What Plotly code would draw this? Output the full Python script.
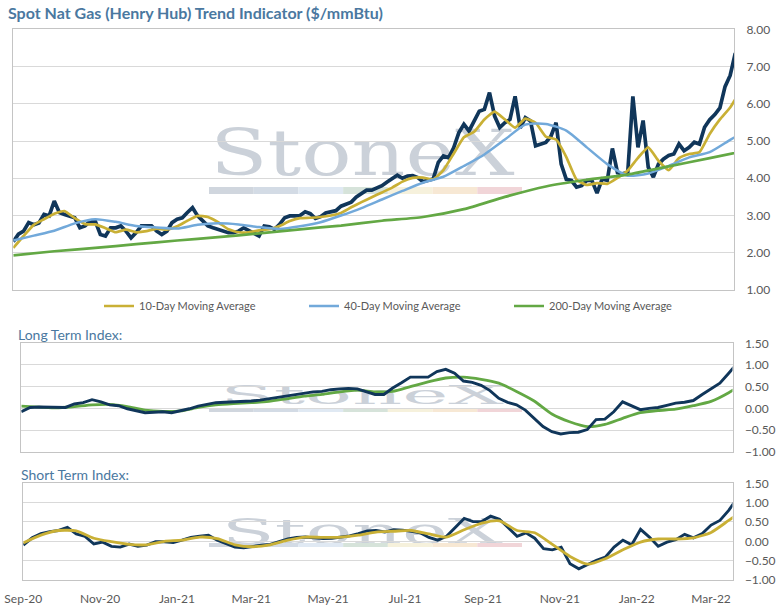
import pandas as pd
import plotly.graph_objects as go

W, H = 778, 607

# ---------------- data ----------------
START = "2020-09-01"
END = "2022-03-18"

spot_dates = pd.date_range(START, periods=142, freq="4D")
spot = [2.3, 2.5, 2.58, 2.81, 2.75, 2.8, 3.03, 2.99, 3.39, 3.08,
        3.03, 2.99, 2.94, 2.67, 2.72, 2.85, 2.85, 2.49, 2.45, 2.67,
        2.67, 2.72, 2.58, 2.4, 2.54, 2.72, 2.72, 2.72, 2.58, 2.49,
        2.58, 2.81, 2.9, 2.94, 3.08, 3.21, 2.99, 2.85, 2.72, 2.67,
        2.63, 2.58, 2.54, 2.54, 2.58, 2.67, 2.6, 2.54, 2.45, 2.72,
        2.7, 2.63, 2.76, 2.94, 2.99, 2.99, 3.0, 3.1, 3.05, 2.92,
        2.97, 3.07, 3.1, 3.13, 3.25, 3.3, 3.36, 3.5, 3.6, 3.68,
        3.68, 3.73, 3.8, 3.9, 4.0, 4.08, 4.0, 4.06, 4.07, 4.02,
        3.91, 3.95, 3.98, 4.43, 4.6, 4.55, 4.82, 5.22, 5.45, 5.27,
        5.54, 5.8, 5.85, 6.3, 5.67, 5.36, 5.49, 5.58, 6.2, 5.35,
        5.63, 5.54, 4.87, 4.91, 4.96, 5.13, 5.49, 4.38, 3.97, 3.94,
        3.76, 3.8, 3.94, 3.94, 3.6, 3.98, 3.94, 4.8, 4.15, 4.12,
        4.16, 6.2, 4.83, 5.55, 4.3, 4.03, 4.38, 4.52, 4.61, 4.65,
        4.92, 4.74, 4.83, 4.97, 4.92, 5.37, 5.57, 5.71, 5.89, 6.46,
        6.76, 7.36]

ma10_dates = pd.date_range(START, periods=72, freq="8D")
ma10 = [2.13, 2.45, 2.75, 2.9, 3.05, 3.12, 2.93, 2.77, 2.76, 2.66,
        2.55, 2.62, 2.55, 2.58, 2.65, 2.62, 2.71, 2.86, 2.99, 2.96,
        2.82, 2.63, 2.55, 2.55, 2.6, 2.63, 2.72, 2.85, 2.93, 2.94,
        2.96, 3.0, 3.07, 3.22, 3.36, 3.49, 3.62, 3.75, 3.91, 4.01,
        4.02, 3.97, 4.22, 4.66, 5.1, 5.25, 5.58, 5.79, 5.58, 5.36,
        5.6, 5.49, 5.12, 5.04, 4.57, 3.96, 3.82, 3.87, 3.85, 4.01,
        4.21, 4.55, 4.83, 4.47, 4.22, 4.54, 4.65, 4.7, 5.19, 5.58,
        5.9, 6.35]

ma40_dates = pd.date_range(START, periods=37, freq="16D")
ma40 = [2.33, 2.46, 2.59, 2.79, 2.9, 2.83, 2.72, 2.68, 2.65, 2.75,
        2.79, 2.76, 2.69, 2.64, 2.71, 2.82, 3.0, 3.2, 3.43, 3.66,
        3.88, 4.04, 4.33, 4.64, 5.04, 5.44, 5.46, 5.28, 4.83, 4.38,
        4.07, 4.13, 4.33, 4.56, 4.7, 5.03, 5.35]

ma200_dates = pd.date_range(START, periods=19, freq="32D")
ma200 = [1.93, 2.04, 2.13, 2.23, 2.33, 2.42, 2.52, 2.63, 2.73, 2.86,
         2.96, 3.17, 3.5, 3.78, 3.96, 4.1, 4.32, 4.54, 4.77]

lt_dates = pd.date_range(START, periods=82, freq="7D")
lt_index = [-0.08, 0.02, 0.03, 0.03, 0.02, 0.02, 0.1, 0.13, 0.2, 0.15,
            0.08, 0.06, -0.01, -0.06, -0.1, -0.09, -0.08, -0.1, -0.06, -0.01,
            0.05, 0.09, 0.13, 0.14, 0.15, 0.15, 0.17, 0.19, 0.22, 0.25,
            0.28, 0.32, 0.35, 0.38, 0.39, 0.43, 0.45, 0.46, 0.45, 0.39,
            0.32, 0.32, 0.47, 0.59, 0.72, 0.72, 0.72, 0.85, 0.9, 0.81,
            0.63, 0.6, 0.53, 0.41, 0.23, 0.14, 0.08, -0.04, -0.22, -0.42,
            -0.54, -0.59, -0.56, -0.55, -0.49, -0.26, -0.25, -0.08, 0.15, 0.06,
            -0.03, 0.0, 0.02, 0.07, 0.12, 0.14, 0.18, 0.32, 0.45, 0.58,
            0.81, 1.05]

lt_avg_dates = pd.date_range(START, periods=42, freq="14D")
lt_avg = [0.05, 0.03, 0.01, 0.04, 0.08, 0.09, 0.04, -0.04, -0.07, -0.06,
          0.02, 0.08, 0.11, 0.13, 0.16, 0.22, 0.28, 0.32, 0.38, 0.42,
          0.38, 0.39, 0.5, 0.61, 0.7, 0.72, 0.67, 0.58, 0.39, 0.17,
          -0.13, -0.31, -0.42, -0.37, -0.23, -0.1, -0.05, -0.02, 0.06, 0.16,
          0.36, 0.62]

st_dates = pd.date_range(START, periods=82, freq="7D")
st_index = [-0.1, 0.09, 0.2, 0.25, 0.28, 0.36, 0.19, 0.13, -0.07, -0.02,
            -0.13, -0.15, -0.07, -0.13, -0.1, -0.01, -0.01, -0.03, 0.03, 0.1,
            0.13, 0.16, 0.03, -0.07, -0.15, -0.17, -0.13, -0.1, -0.08, 0.0,
            0.06, 0.1, 0.11, 0.09, 0.07, 0.08, 0.11, 0.14, 0.2, 0.27,
            0.28, 0.24, 0.3, 0.29, 0.26, 0.22, 0.1, 0.03, 0.13, 0.35,
            0.59, 0.51, 0.51, 0.65, 0.57, 0.35, 0.13, 0.22, 0.08, -0.19,
            -0.22, -0.15, -0.58, -0.71, -0.59, -0.49, -0.41, -0.15, 0.03, -0.09,
            0.31, 0.11, -0.13, -0.02, 0.04, 0.18, 0.09, 0.2, 0.42, 0.54,
            0.8, 1.12]

st_avg_dates = pd.date_range(START, periods=42, freq="14D")
st_avg = [-0.04, 0.16, 0.28, 0.27, 0.08, -0.01, -0.08, -0.09, 0.0, 0.03,
          0.11, 0.07, -0.09, -0.14, -0.09, 0.03, 0.11, 0.1, 0.11, 0.16,
          0.24, 0.26, 0.28, 0.19, 0.11, 0.3, 0.47, 0.53, 0.28, 0.22,
          -0.08, -0.39, -0.59, -0.45, -0.22, -0.02, 0.06, 0.06, 0.09, 0.23,
          0.54, 0.85]

tick_dates = ["2020-09-01", "2020-11-01", "2021-01-01", "2021-03-01", "2021-05-01",
              "2021-07-01", "2021-09-01", "2021-11-01", "2022-01-01", "2022-03-01"]
tick_labels = ["Sep-20", "Nov-20", "Jan-21", "Mar-21", "May-21",
               "Jul-21", "Sep-21", "Nov-21", "Jan-22", "Mar-22"]

price_ticks = [1, 2, 3, 4, 5, 6, 7, 8]
index_ticks = [-1.0, -0.5, 0.0, 0.5, 1.0, 1.5]

# ---------------- styling ----------------
NAVY = "#10365a"
GOLD = "#c9b035"
BLUE = "#72a9da"
GREEN = "#63a844"
GRID = "#d9d9d9"
BORDER = "#c4c4c4"
TXT = "#595959"
TITLE = "#4a78a0"
FONT = "Lato, 'Open Sans', sans-serif"


def px(x):
    return x / W


def py(y):
    return 1 - y / H


fig = go.Figure()

# top panel
fig.add_trace(go.Scatter(x=spot_dates, y=spot, mode="lines", name="Spot",
                         line=dict(color=NAVY, width=3.7), showlegend=False,
                         xaxis="x", yaxis="y"))
fig.add_trace(go.Scatter(x=ma10_dates, y=ma10, mode="lines", name="10-Day Moving Average",
                         line=dict(color=GOLD, width=2.7, shape="spline", smoothing=0.4),
                         xaxis="x", yaxis="y"))
fig.add_trace(go.Scatter(x=ma40_dates, y=ma40, mode="lines", name="40-Day Moving Average",
                         line=dict(color=BLUE, width=2.5, shape="spline", smoothing=0.6),
                         xaxis="x", yaxis="y"))
fig.add_trace(go.Scatter(x=ma200_dates, y=ma200, mode="lines", name="200-Day Moving Average",
                         line=dict(color=GREEN, width=2.7, shape="spline", smoothing=0.6),
                         xaxis="x", yaxis="y"))

# long term index
fig.add_trace(go.Scatter(x=lt_avg_dates, y=lt_avg, mode="lines", showlegend=False,
                         line=dict(color=GREEN, width=2.8, shape="spline", smoothing=0.6),
                         xaxis="x2", yaxis="y2"))
fig.add_trace(go.Scatter(x=lt_dates, y=lt_index, mode="lines", showlegend=False,
                         line=dict(color=NAVY, width=2.9), xaxis="x2", yaxis="y2"))

# short term index
fig.add_trace(go.Scatter(x=st_dates, y=st_index, mode="lines", showlegend=False,
                         line=dict(color=NAVY, width=2.9), xaxis="x3", yaxis="y3"))
fig.add_trace(go.Scatter(x=st_avg_dates, y=st_avg, mode="lines", showlegend=False,
                         line=dict(color=GOLD, width=2.8, shape="spline", smoothing=0.6),
                         xaxis="x3", yaxis="y3"))

xbase = dict(type="date", range=[START, END], showgrid=False, zeroline=False,
             showline=True, mirror=True, linecolor=BORDER, linewidth=1,
             fixedrange=True, automargin=False)
ybase = dict(side="right", showgrid=True, gridcolor=GRID, gridwidth=1, zeroline=False,
             showline=True, mirror=True, linecolor=BORDER, linewidth=1,
             tickfont=dict(size=12, color=TXT, family=FONT), ticks="",
             ticklabelstandoff=9, tickformat=".2f", automargin=False, fixedrange=True)

top_dom_x = [px(13.3), px(734)]
top_dom_y = [py(290), py(29.3)]
lt_dom_x = [px(21.3), px(732.5)]
lt_dom_y = [py(451.7), py(343.3)]
st_dom_x = [px(23.3), px(732.5)]
st_dom_y = [py(580), py(483.3)]

fig.update_layout(
    width=W, height=H, autosize=False,
    margin=dict(l=0, r=0, t=0, b=0, pad=0, autoexpand=False),
    paper_bgcolor="white", plot_bgcolor="rgba(0,0,0,0)",
    font=dict(family=FONT, color=TXT),
    xaxis=dict(xbase, domain=top_dom_x, anchor="y", showticklabels=False),
    yaxis=dict(ybase, domain=top_dom_y, anchor="x", range=[1, 8], tickvals=price_ticks),
    xaxis2=dict(xbase, domain=lt_dom_x, anchor="y2", showticklabels=False),
    yaxis2=dict(ybase, domain=lt_dom_y, anchor="x2", range=[-1, 1.5], tickvals=index_ticks),
    xaxis3=dict(xbase, domain=st_dom_x, anchor="y3", tickvals=tick_dates, ticktext=tick_labels,
                tickfont=dict(size=12, color=TXT, family=FONT), ticks="", ticklabelstandoff=8),
    yaxis3=dict(ybase, domain=st_dom_y, anchor="x3", range=[-1, 1.5], tickvals=index_ticks),
    legend=dict(orientation="h", x=px(99), y=py(306), xanchor="left", yanchor="middle",
                font=dict(size=11, color=TXT, family=FONT), itemwidth=30,
                entrywidth=160, entrywidthmode="pixels", bgcolor="rgba(0,0,0,0)"),
    showlegend=True,
    hovermode=False,
)

annotations = [
    dict(text="<b>Spot Nat Gas (Henry Hub) Trend Indicator ($/mmBtu)</b>",
         x=px(6), y=py(13), xref="paper", yref="paper", xanchor="left", yanchor="middle",
         showarrow=False, font=dict(size=16, color=TITLE, family=FONT)),
    dict(text="Long Term Index:", x=px(16), y=py(334), xref="paper", yref="paper",
         xanchor="left", yanchor="middle", showarrow=False,
         font=dict(size=14, color=TITLE, family=FONT)),
    dict(text="Short Term Index:", x=px(19), y=py(474), xref="paper", yref="paper",
         xanchor="left", yanchor="middle", showarrow=False,
         font=dict(size=14, color=TITLE, family=FONT)),
]
fig.update_layout(annotations=annotations)

# ---------------- StoneX watermark (decoration, drawn beneath the data) ----------------
wm_colors = ["#d0d6de", "#d3dbe5", "#e0e9f3", "#d6e3da", "#f6f1dc", "#f7e8d4", "#f1d5d8"]
WM_TXT = "#cbd1d9"

shapes = []


def watermark(center_y, size, bar_top, bar_h):
    shapes.append(dict(type="rect", xref="paper", yref="paper", layer="below",
                       x0=px(210), x1=px(515),
                       y0=py(center_y + 20), y1=py(center_y - 20),
                       line=dict(width=0), fillcolor="rgba(0,0,0,0)",
                       label=dict(text="StoneX", textposition="middle center", padding=0,
                                  font=dict(size=size, color=WM_TXT,
                                            family="'DejaVu Serif', serif"))))
    seg = (522 - 209) / 7.0
    for i, c in enumerate(wm_colors):
        shapes.append(dict(type="rect", xref="paper", yref="paper", layer="below",
                           x0=px(209 + i * seg), x1=px(209 + (i + 1) * seg),
                           y0=py(bar_top + bar_h), y1=py(bar_top),
                           line=dict(width=0), fillcolor=c))


watermark(center_y=148, size=64, bar_top=187, bar_h=7)
watermark(center_y=393, size=26, bar_top=408, bar_h=4)
watermark(center_y=529, size=36, bar_top=543, bar_h=4)
fig.update_layout(shapes=shapes)

# stretch the watermark words horizontally, as in the reference
stretch_js = """
document.body.style.margin='0';
document.body.style.overflow='hidden';
var targets=[305,285,282];
var els=Array.prototype.slice.call(document.querySelectorAll('.shapelayer text')).filter(function(t){return t.textContent==='StoneX';});
els.forEach(function(t,i){
  var b=t.getBBox(); if(!b.width){return;}
  var cx=b.x+b.width/2; var s=targets[i%3]/b.width;
  var tr=t.getAttribute('transform')||'';
  t.setAttribute('transform', tr+' translate('+cx+',0) scale('+s+',1) translate('+(-cx)+',0)');
});
"""

fig.write_html("out.html", config={"displayModeBar": False, "staticPlot": True},
               post_script=stretch_js)
